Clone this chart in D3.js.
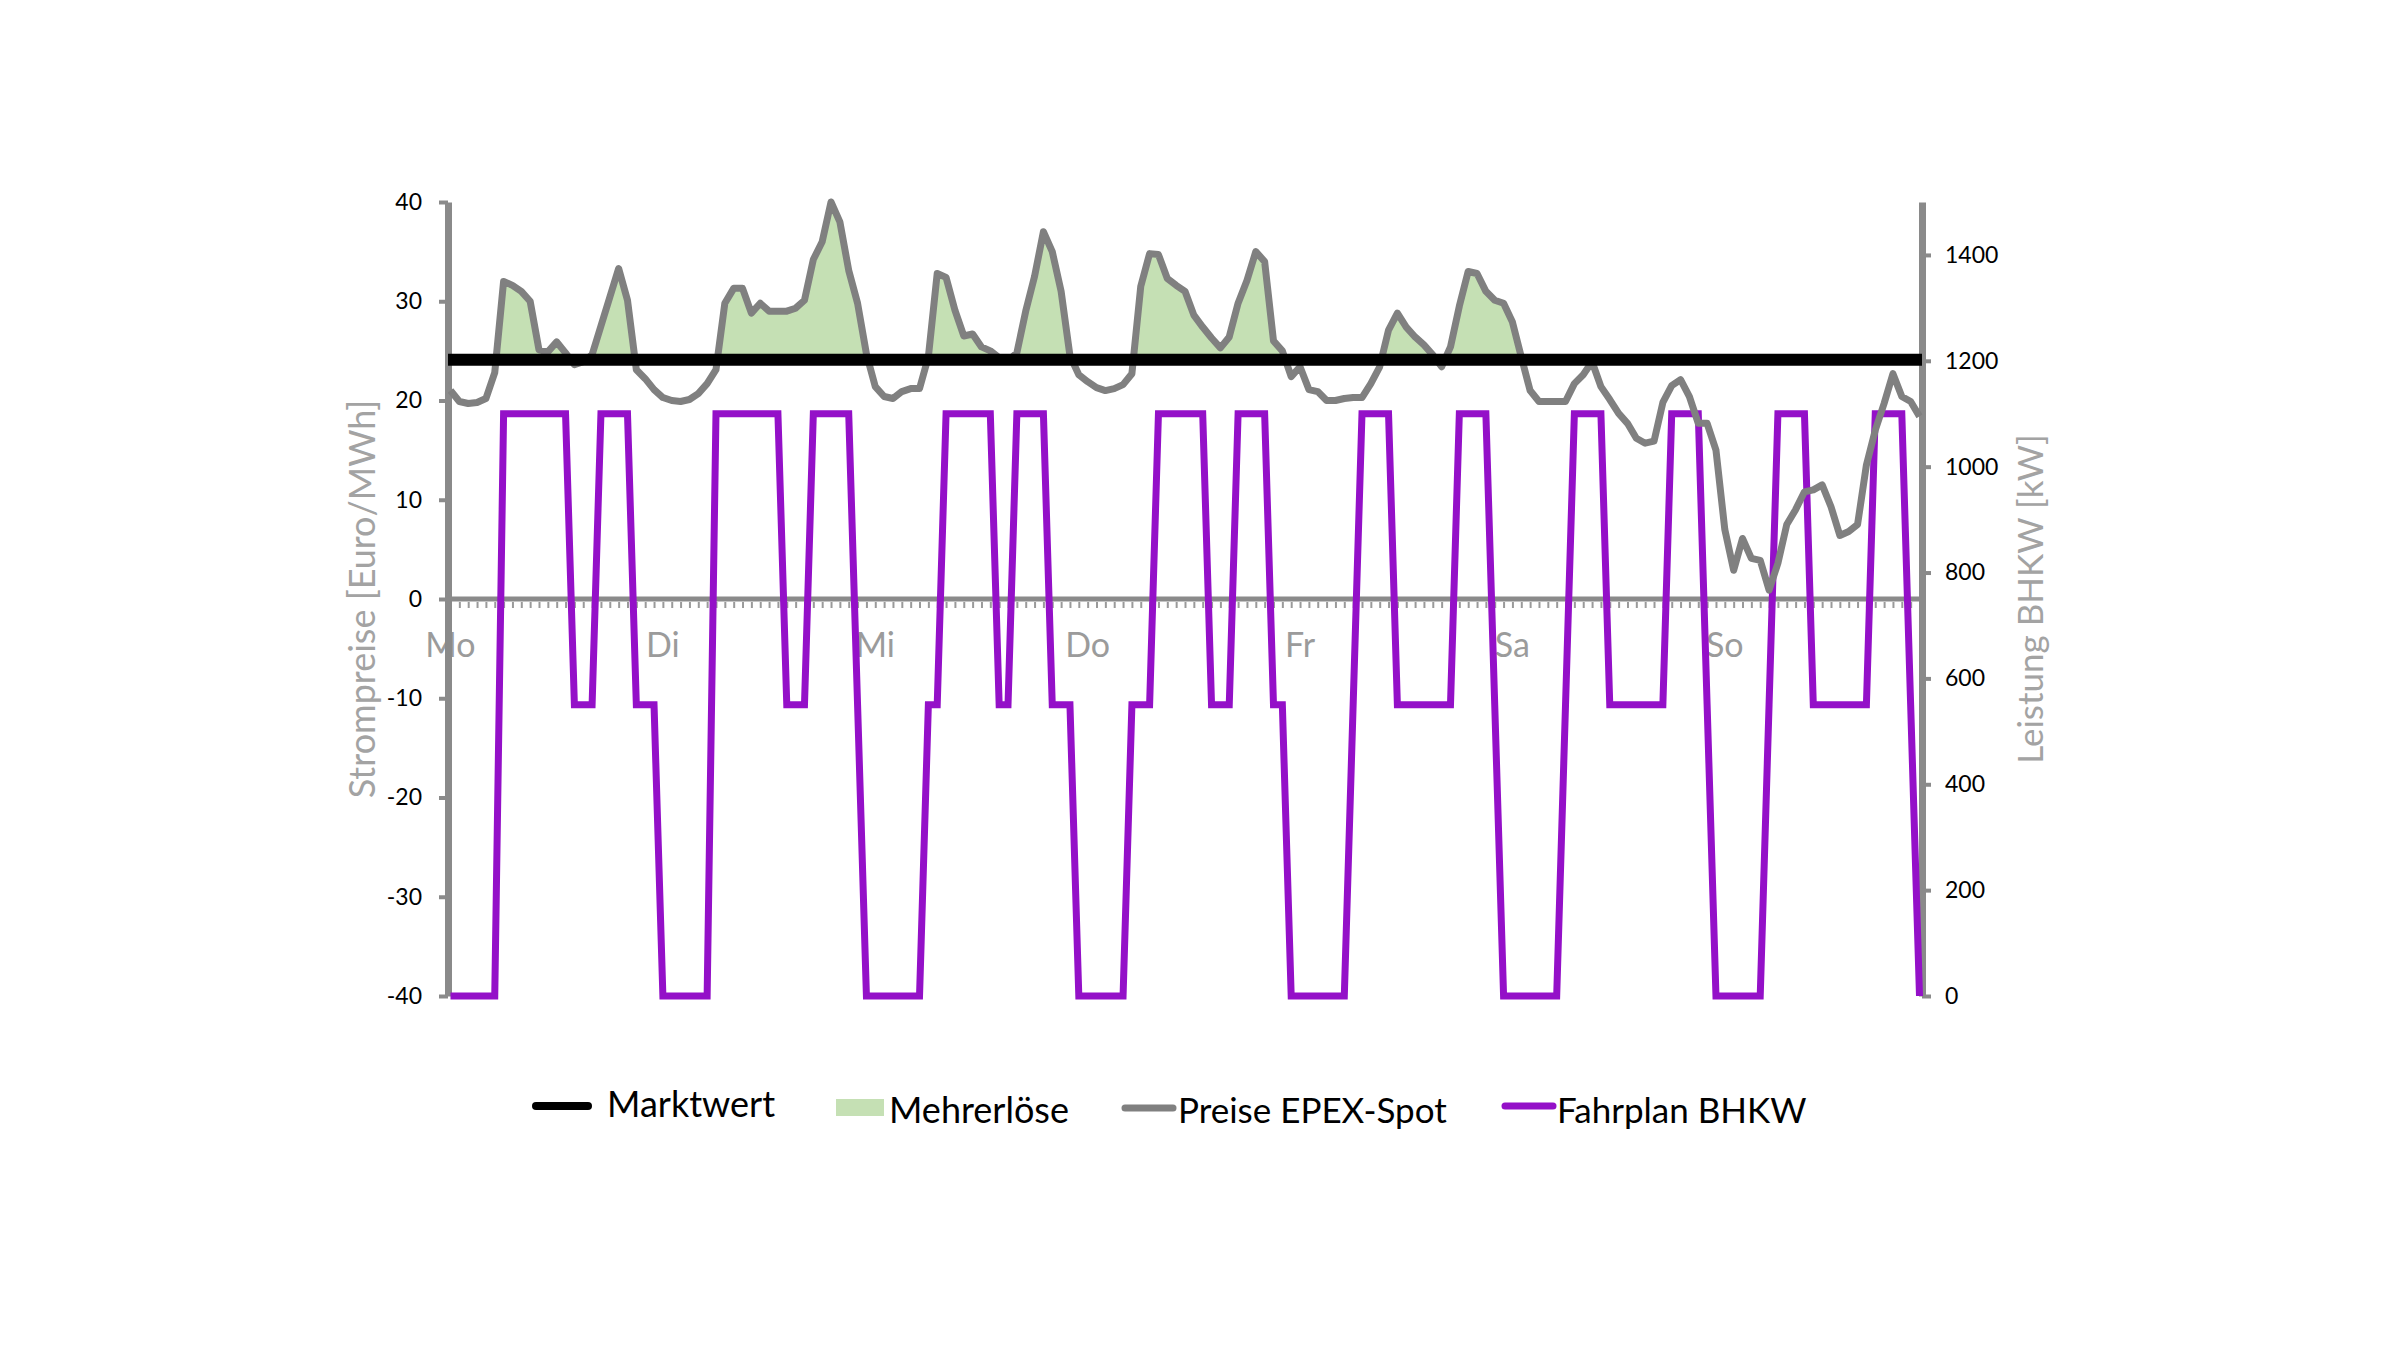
<!DOCTYPE html>
<html>
<head>
<meta charset="utf-8">
<script src="https://cdn.jsdelivr.net/npm/d3@7"></script>
<style>
  body { margin: 0; background: #fff; }
  svg { display: block; }
  text { font-family: Lato, "Open Sans", sans-serif; }
</style>
</head>
<body>
<svg id="chart" width="2400" height="1350"></svg>
<script>
// hourly EPEX spot prices, Mo 0:00 .. So 22:00 (Euro/MWh)
const spotPrices = [
  21.0, 19.9, 19.7, 19.8, 20.2, 22.8, 32.0, 31.6, 31.0, 30.0,
  25.1, 24.9, 25.9, 24.8, 23.6, 23.9, 24.6, 27.5, 30.4, 33.3,
  30.1, 23.1, 22.2, 21.1, 20.3, 20.0, 19.9, 20.1, 20.7, 21.7,
  23.1, 29.8, 31.3, 31.3, 28.8, 29.8, 29.0, 29.0, 29.0, 29.3,
  30.1, 34.2, 36.0, 40.0, 38.0, 33.1, 29.8, 24.7, 21.4, 20.4,
  20.2, 20.9, 21.2, 21.2, 24.4, 32.8, 32.4, 29.1, 26.5, 26.7,
  25.4, 25.0, 24.3, 24.0, 24.8, 29.0, 32.5, 37.0, 35.0, 31.0,
  24.5, 22.6, 21.9, 21.3, 21.0, 21.2, 21.6, 22.7, 31.5, 34.8,
  34.7, 32.3, 31.6, 31.0, 28.6, 27.4, 26.3, 25.3, 26.4, 29.8,
  32.1, 35.0, 34.0, 26.0, 25.0, 22.4, 23.4, 21.1, 20.9, 20.0,
  20.0, 20.2, 20.3, 20.3, 21.7, 23.4, 27.1, 28.8, 27.4, 26.4,
  25.6, 24.6, 23.4, 25.4, 29.5, 33.0, 32.8, 31.0, 30.1, 29.8,
  27.9, 24.4, 21.0, 19.9, 19.9, 19.9, 19.9, 21.7, 22.6, 23.9,
  21.4, 20.1, 18.7, 17.7, 16.2, 15.7, 15.9, 19.8, 21.5, 22.1,
  20.4, 17.7, 17.7, 15.0, 7.0, 2.9, 6.1, 4.1, 3.9, 0.9,
  3.6, 7.5, 9.0, 10.8, 11.0, 11.5, 9.3, 6.4, 6.8, 7.5,
  13.5, 17.0, 19.7, 22.7, 20.4, 19.9, 18.4
];

// CHP schedule (kW), same hours
const schedule = [
  0, 0, 0, 0, 0, 0, 1100, 1100, 1100, 1100,
  1100, 1100, 1100, 1100, 550, 550, 550, 1100, 1100, 1100,
  1100, 550, 550, 550, 0, 0, 0, 0, 0, 0,
  1100, 1100, 1100, 1100, 1100, 1100, 1100, 1100, 550, 550,
  550, 1100, 1100, 1100, 1100, 1100, 550, 0, 0, 0,
  0, 0, 0, 0, 550, 550, 1100, 1100, 1100, 1100,
  1100, 1100, 550, 550, 1100, 1100, 1100, 1100, 550, 550,
  550, 0, 0, 0, 0, 0, 0, 550, 550, 550,
  1100, 1100, 1100, 1100, 1100, 1100, 550, 550, 550, 1100,
  1100, 1100, 1100, 550, 550, 0, 0, 0, 0, 0,
  0, 0, 550, 1100, 1100, 1100, 1100, 550, 550, 550,
  550, 550, 550, 550, 1100, 1100, 1100, 1100, 550, 0,
  0, 0, 0, 0, 0, 0, 550, 1100, 1100, 1100,
  1100, 550, 550, 550, 550, 550, 550, 550, 1100, 1100,
  1100, 1100, 550, 0, 0, 0, 0, 0, 0, 550,
  1100, 1100, 1100, 1100, 550, 550, 550, 550, 550, 550,
  550, 1100, 1100, 1100, 1100, 550, 0
];

const marketValue = 24.1;
const days = ["Mo", "Di", "Mi", "Do", "Fr", "Sa", "So"];
const priceTicks = [-40, -30, -20, -10, 0, 10, 20, 30, 40];
const powerTicks = [0, 200, 400, 600, 800, 1000, 1200, 1400];
const legendLabels = ["Marktwert", "Mehrerlöse", "Preise EPEX-Spot", "Fahrplan BHKW"];

const colors = {
  market: "#000000",
  extra: "#c5e0b4",
  price: "#808080",
  plan: "#9410c8",
  axis: "#8a8a8a",
  title: "#a3a3a3"
};

const plotLeft = 448, plotRight = 1922, plotTop = 202, plotBottom = 996;

const svg = d3.select("#chart");

const x = d3.scaleLinear()
  .domain([0, spotPrices.length - 1])
  .range([plotLeft + 2.5, plotRight - 2.5]);
const yPrice = d3.scaleLinear().domain([-40, 40]).range([plotBottom, plotTop]);
const yPower = d3.scaleLinear().domain([0, 1500]).range([plotBottom, plotTop]);

// points above the market value, with the crossings added so the fill meets the line
const extraPts = [];
spotPrices.forEach((p, i) => {
  if (i > 0) {
    const p0 = spotPrices[i - 1];
    if ((p0 - marketValue) * (p - marketValue) < 0) {
      const t = (marketValue - p0) / (p - p0);
      extraPts.push({ i: i - 1 + t, v: marketValue });
    }
  }
  extraPts.push({ i: i, v: Math.max(p, marketValue) });
});

svg.append("path")
  .datum(extraPts)
  .attr("fill", colors.extra)
  .attr("d", d3.area()
    .x((d) => x(d.i))
    .y0(yPrice(marketValue))
    .y1((d) => yPrice(d.v)));

// zero line with hourly minor ticks
const xAxis = svg.append("g")
  .attr("transform", `translate(0, ${yPrice(0)})`)
  .call(d3.axisBottom(x)
    .tickValues(d3.range(1, spotPrices.length - 1))
    .tickSize(9)
    .tickSizeOuter(0)
    .tickFormat(""));
xAxis.select(".domain").remove();
xAxis.selectAll(".tick line")
  .attr("stroke", "#9a9a9a")
  .attr("stroke-width", 2)
  .attr("y1", 3);

svg.append("line")
  .attr("x1", plotLeft)
  .attr("x2", plotRight)
  .attr("y1", yPrice(0))
  .attr("y2", yPrice(0))
  .attr("stroke", colors.axis)
  .attr("stroke-width", 5);

svg.selectAll(".day-label")
  .data(days)
  .enter()
  .append("text")
  .attr("class", "day-label")
  .attr("x", (d, k) => x(k * 24))
  .attr("y", 657)
  .attr("text-anchor", "middle")
  .attr("font-size", 34)
  .attr("fill", "#9b9b9b")
  .text((d) => d);

// left axis
const leftAxis = svg.append("g")
  .attr("transform", `translate(${plotLeft}, 0)`)
  .call(d3.axisLeft(yPrice)
    .tickValues(priceTicks)
    .tickFormat((d) => String(d))
    .tickSize(9)
    .tickSizeOuter(0)
    .tickPadding(17));
leftAxis.select(".domain").attr("stroke", colors.axis).attr("stroke-width", 7);
leftAxis.selectAll(".tick line").attr("stroke", colors.axis).attr("stroke-width", 4);
leftAxis.selectAll(".tick text")
  .attr("font-family", "Lato, sans-serif")
  .attr("font-size", 23)
  .attr("fill", "#000");

// right axis
const rightAxis = svg.append("g")
  .attr("transform", `translate(${plotRight}, 0)`)
  .call(d3.axisRight(yPower)
    .tickValues(powerTicks)
    .tickFormat((d) => String(d))
    .tickSize(9)
    .tickSizeOuter(0)
    .tickPadding(14));
rightAxis.select(".domain").attr("stroke", colors.axis).attr("stroke-width", 7);
rightAxis.selectAll(".tick line").attr("stroke", colors.axis).attr("stroke-width", 4);
rightAxis.selectAll(".tick text")
  .attr("font-family", "Lato, sans-serif")
  .attr("font-size", 23)
  .attr("fill", "#000");

// axis titles
svg.append("text")
  .attr("transform", `translate(361, ${(plotTop + plotBottom) / 2}) rotate(-90)`)
  .attr("text-anchor", "middle")
  .attr("dominant-baseline", "central")
  .attr("font-size", 36)
  .attr("fill", colors.title)
  .text("Strompreise [Euro/MWh]");

svg.append("text")
  .attr("transform", `translate(2029, ${(plotTop + plotBottom) / 2}) rotate(-90)`)
  .attr("text-anchor", "middle")
  .attr("dominant-baseline", "central")
  .attr("font-size", 35)
  .attr("fill", colors.title)
  .text("Leistung BHKW [kW]");

// series
svg.append("path")
  .datum(schedule)
  .attr("fill", "none")
  .attr("stroke", colors.plan)
  .attr("stroke-width", 7)
  .attr("stroke-linejoin", "miter")
  .attr("d", d3.line().x((d, i) => x(i)).y((d) => yPower(d)));

svg.append("path")
  .datum(spotPrices)
  .attr("fill", "none")
  .attr("stroke", colors.price)
  .attr("stroke-width", 7)
  .attr("stroke-linejoin", "round")
  .attr("d", d3.line().x((d, i) => x(i)).y((d) => yPrice(d)));

svg.append("line")
  .attr("x1", plotLeft)
  .attr("x2", plotRight)
  .attr("y1", yPrice(marketValue))
  .attr("y2", yPrice(marketValue))
  .attr("stroke", colors.market)
  .attr("stroke-width", 12);

// legend
const legend = svg.append("g");

legend.append("line")
  .attr("x1", 536).attr("x2", 588).attr("y1", 1106).attr("y2", 1106)
  .attr("stroke", colors.market).attr("stroke-width", 8).attr("stroke-linecap", "round");
legend.append("text").attr("x", 607).attr("y", 1117)
  .attr("font-size", 36).attr("fill", "#000").text(legendLabels[0]);

legend.append("rect")
  .attr("x", 836).attr("y", 1099).attr("width", 48).attr("height", 17)
  .attr("fill", colors.extra);
legend.append("text").attr("x", 889).attr("y", 1123)
  .attr("font-size", 36).attr("fill", "#000").text(legendLabels[1]);

legend.append("line")
  .attr("x1", 1125).attr("x2", 1173).attr("y1", 1108).attr("y2", 1108)
  .attr("stroke", colors.price).attr("stroke-width", 7).attr("stroke-linecap", "round");
legend.append("text").attr("x", 1178).attr("y", 1123)
  .attr("font-size", 35).attr("fill", "#000").text(legendLabels[2]);

legend.append("line")
  .attr("x1", 1505).attr("x2", 1553).attr("y1", 1106).attr("y2", 1106)
  .attr("stroke", colors.plan).attr("stroke-width", 7).attr("stroke-linecap", "round");
legend.append("text").attr("x", 1557).attr("y", 1123)
  .attr("font-size", 35).attr("fill", "#000").text(legendLabels[3]);
</script>
</body>
</html>
